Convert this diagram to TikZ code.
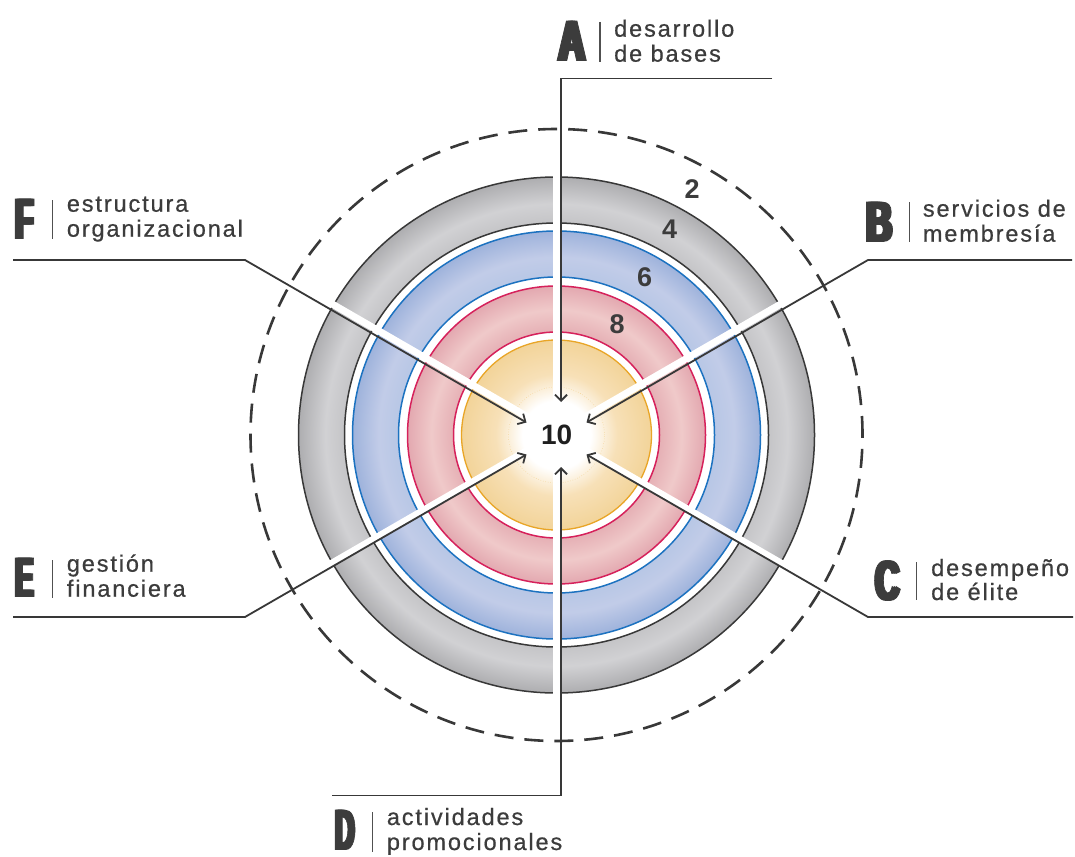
\documentclass[tikz,border=0pt]{standalone}
\usepackage{graphicx}
\usepackage{fontspec}
\setmainfont{Liberation Sans}
\newfontfamily\labfont[LetterSpace=8,FakeBold=0.6]{Liberation Sans}
\newfontfamily\bigfont[FakeBold=2]{Liberation Sans Bold}
\newcommand\heavyletter[1]{{\bigfont\rlap{#1}\kern.06em\rlap{#1}\kern.06em#1}}
\usetikzlibrary{arrows.meta}
\definecolor{txt}{HTML}{3C3C3C}
\definecolor{ln}{HTML}{383838}
\definecolor{blueln}{HTML}{1C72C0}
\definecolor{redln}{HTML}{D6215B}
\definecolor{yelln}{HTML}{E9A526}
\pgfdeclareradialshading{grayring}{\pgfpointorigin}{rgb(0bp)=(0.77,0.77,0.78); rgb(20.5bp)=(0.77,0.77,0.78); rgb(22.4bp)=(0.82,0.82,0.83); rgb(25bp)=(0.68,0.68,0.69); rgb(50bp)=(0.68,0.68,0.69)}
\pgfdeclareradialshading{bluering}{\pgfpointorigin}{rgb(0bp)=(0.72,0.78,0.90); rgb(19.4bp)=(0.72,0.78,0.90); rgb(21.8bp)=(0.76,0.80,0.91); rgb(25bp)=(0.62,0.70,0.86); rgb(50bp)=(0.62,0.70,0.86)}
\pgfdeclareradialshading{redring}{\pgfpointorigin}{rgb(0bp)=(0.90,0.69,0.71); rgb(17.3bp)=(0.90,0.69,0.71); rgb(21bp)=(0.94,0.79,0.79); rgb(25bp)=(0.89,0.66,0.69); rgb(50bp)=(0.89,0.66,0.69)}
\pgfdeclareradialshading{yelring}{\pgfpointorigin}{rgb(0bp)=(1,1,1); rgb(9bp)=(1,1,1); rgb(16bp)=(0.97,0.88,0.72); rgb(25bp)=(0.95,0.83,0.60); rgb(50bp)=(0.95,0.83,0.60)}
\begin{document}
\begin{tikzpicture}[x=1pt,y=-1pt,
  conn/.style={draw=ln, line width=1.8pt, -{Straight Barb[length=6pt,width=12pt]}},
  lab/.style={anchor=base west, inner sep=0pt, text=txt, font=\labfont\fontsize{23.5}{25}\selectfont},
  big/.style={anchor=south west, inner sep=0pt, text=txt},
  sepbar/.style={draw=txt!90, line width=1.4pt},
  num/.style={text=txt, inner sep=0pt, font=\bfseries\fontsize{27}{27}\selectfont},
  gapstripe/.style={draw=white, line width=7pt},
  ringline/.style={line width=1.5pt}]
\fill[white] (0,0) rectangle (1075,856);
\useasboundingbox (0,0) rectangle (1075,856);
\coordinate (O) at (556.5,435);
% dashed outer circle
\draw[ln, line width=2.6pt, dash pattern=on 19pt off 11pt] (O) circle[radius=306pt];
% rings
\shade[shading=grayring, even odd rule] (O) circle[radius=258pt] (O) circle[radius=212pt];
\draw[ln, ringline] (O) circle[radius=258pt] (O) circle[radius=212pt];
\shade[shading=bluering, even odd rule] (O) circle[radius=204pt] (O) circle[radius=158pt];
\draw[blueln, ringline] (O) circle[radius=204pt] (O) circle[radius=158pt];
\shade[shading=redring, even odd rule] (O) circle[radius=149pt] (O) circle[radius=103pt];
\draw[redln, ringline] (O) circle[radius=149pt] (O) circle[radius=103pt];
\shade[shading=yelring] (O) circle[radius=95pt];
\draw[yelln, line width=1.3pt] (O) circle[radius=95pt];
\draw[yelln!55, line width=0.5pt, dotted] (O) circle[radius=48pt];
% white gaps
\draw[gapstripe] (556.5,172) -- (556.5,698);
\draw[gapstripe] (783.4,302.5) -- (329.6,564.5);
\draw[gapstripe] (783.4,564.5) -- (329.6,302.5);
% level numbers
\node[num] (n2) at (692,189.5) {2};
\node[num] (n4) at (669.5,229.7) {4};
\node[num] (n6) at (644.7,277) {6};
\node[num] (n8) at (617,324.5) {8};
\node[inner sep=0pt, text=black!88, font=\bfseries\fontsize{28}{28}\selectfont] (ten) at (556.7,435) {10};
% connectors
\coordinate (Ah) at (772,78.5); \coordinate (Ac) at (561,78.5); \coordinate (At) at (561,402);
\coordinate (Bh) at (1072,260); \coordinate (Bc) at (868,260); \coordinate (Bt) at (586.5,422.5);
\coordinate (Ch) at (1073,617); \coordinate (Cc) at (868,617); \coordinate (Ct) at (586.5,454.5);
\coordinate (Dh) at (332,795.5); \coordinate (Dc) at (561,795.5); \coordinate (Dt) at (561,467);
\coordinate (Eh) at (13,617); \coordinate (Ec) at (245,617); \coordinate (Et) at (526.5,454.5);
\coordinate (Fh) at (13,260); \coordinate (Fc) at (245,260); \coordinate (Ft) at (526.5,422.5);
\draw[conn] (Ah) -- (Ac) -- (At);
\draw[conn] (Bh) -- (Bc) -- (Bt);
\draw[conn] (Ch) -- (Cc) -- (Ct);
\draw[conn] (Dh) -- (Dc) -- (Dt);
\draw[conn] (Eh) -- (Ec) -- (Et);
\draw[conn] (Fh) -- (Fc) -- (Ft);
% labels
\node[big] (LA) at (556,60.5) {\resizebox{31pt}{39pt}{\heavyletter{A}}};
\draw[sepbar] (600,22) -- (600,62);
\node[lab] (A1) at (614,36.7) {desarrollo};
\node[lab] (A2) at (614,61.7) {de bases};
\node[big] (LB) at (864,241.5) {\resizebox{30pt}{39pt}{\heavyletter{B}}};
\draw[sepbar] (909.3,202) -- (909.3,242);
\node[lab] (B1) at (922.7,216.7) {servicios de};
\node[lab] (B2) at (922.7,241.7) {membresía};
\node[big] (LC) at (873,600.5) {\resizebox{28pt}{39pt}{\heavyletter{C}}};
\draw[sepbar] (916.7,562) -- (916.7,600);
\node[lab] (C1) at (931,576) {desempeño};
\node[lab] (C2) at (931,600) {de élite};
\node[big] (LD) at (333,849.5) {\resizebox{23pt}{39pt}{\heavyletter{D}}};
\draw[sepbar] (372.3,812) -- (372.3,852);
\node[lab] (D1) at (386.7,825) {actividades};
\node[lab] (D2) at (386.7,850) {promocionales};
\node[big] (LE) at (13,596.5) {\resizebox{22pt}{38pt}{\heavyletter{E}}};
\draw[sepbar] (52.3,560) -- (52.3,598);
\node[lab] (E1) at (66.7,571.7) {gestión};
\node[lab] (E2) at (66.7,596.7) {financiera};
\node[big] (LF) at (13,238.5) {\resizebox{22pt}{39pt}{\heavyletter{F}}};
\draw[sepbar] (52.3,200) -- (52.3,239);
\node[lab] (F1) at (66.7,211.7) {estructura};
\node[lab] (F2) at (66.7,236.7) {organizacional};
\end{tikzpicture}
\end{document}
